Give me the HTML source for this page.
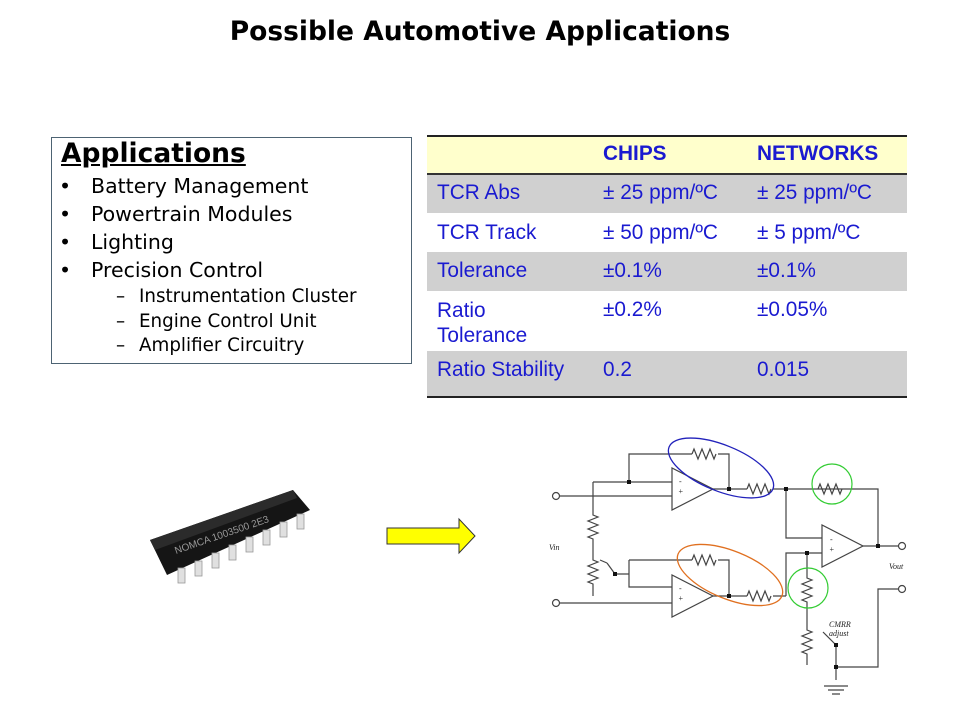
<!DOCTYPE html>
<html><head><meta charset="utf-8"><style>
body{margin:0;width:960px;height:720px;background:#fff;position:relative;overflow:hidden;font-family:"DejaVu Sans","Liberation Sans",sans-serif}
.a{position:absolute;white-space:nowrap}
#title{left:0;width:960px;text-align:center;top:16px;font:bold 26.5px "DejaVu Sans",sans-serif;color:#000}
#box{left:51px;top:137px;width:359px;height:225px;border:1px solid #4d6373}
.t{position:absolute;font-family:"Liberation Sans",sans-serif;font-size:20.8px;color:#1a1ad0;white-space:nowrap}
.b{position:absolute;font-size:20.5px;line-height:24px;white-space:nowrap}
.s{position:absolute;font-size:18.3px;line-height:22px;white-space:nowrap}
</style></head><body>
<div class="a" id="title">Possible Automotive Applications</div>
<div class="a" id="box"></div>
<div class="a" style="left:61px;top:138px;font-size:26.5px;font-weight:bold;text-decoration:underline">Applications</div>
<div class="b" style="left:59px;top:174px">•</div><div class="b" style="left:91px;top:174px">Battery Management</div>
<div class="b" style="left:59px;top:202px">•</div><div class="b" style="left:91px;top:202px">Powertrain Modules</div>
<div class="b" style="left:59px;top:230px">•</div><div class="b" style="left:91px;top:230px">Lighting</div>
<div class="b" style="left:59px;top:258px">•</div><div class="b" style="left:91px;top:258px">Precision Control</div>
<div class="s" style="left:116px;top:286px">–</div><div class="s" style="left:139px;top:286px">Instrumentation Cluster</div>
<div class="s" style="left:116px;top:311px">–</div><div class="s" style="left:139px;top:311px">Engine Control Unit</div>
<div class="s" style="left:116px;top:335px">–</div><div class="s" style="left:139px;top:335px">Amplifier Circuitry</div>

<div class="a" style="left:427px;top:135px;width:480px;height:38px;background:#ffffcc;border-top:2px solid #222;box-sizing:border-box"></div>
<div class="a" style="left:427px;top:173px;width:480px;height:40px;background:#d0d0d0;border-top:2px solid #333;box-sizing:border-box"></div>
<div class="a" style="left:427px;top:252px;width:480px;height:39px;background:#d0d0d0"></div>
<div class="a" style="left:427px;top:351px;width:480px;height:47px;background:#d0d0d0;border-bottom:2px solid #222;box-sizing:border-box"></div>
<div class="t" style="left:603px;top:142px;font-weight:bold">CHIPS</div>
<div class="t" style="left:757px;top:142px;font-weight:bold">NETWORKS</div>
<div class="t" style="left:437px;top:181px">TCR Abs</div><div class="t" style="left:603px;top:181px">± 25 ppm/ºC</div><div class="t" style="left:757px;top:181px">± 25 ppm/ºC</div>
<div class="t" style="left:437px;top:221px">TCR Track</div><div class="t" style="left:603px;top:221px">± 50 ppm/ºC</div><div class="t" style="left:757px;top:221px">± 5 ppm/ºC</div>
<div class="t" style="left:437px;top:259px">Tolerance</div><div class="t" style="left:603px;top:259px">±0.1%</div><div class="t" style="left:757px;top:259px">±0.1%</div>
<div class="t" style="left:437px;top:298px;line-height:25px">Ratio<br>Tolerance</div><div class="t" style="left:603px;top:298px">±0.2%</div><div class="t" style="left:757px;top:298px">±0.05%</div>
<div class="t" style="left:437px;top:358px">Ratio Stability</div><div class="t" style="left:603px;top:358px">0.2</div><div class="t" style="left:757px;top:358px">0.015</div>

<svg class="a" style="left:0;top:0" width="960" height="720">
<!-- chip -->
<g>
<g fill="#d8d8d8" stroke="#999" stroke-width="0.8">
<rect x="200" y="528" width="6" height="12"/><rect x="217" y="522" width="6" height="12"/><rect x="234" y="516" width="6" height="12"/><rect x="251" y="510" width="6" height="12"/><rect x="268" y="504" width="6" height="12"/><rect x="285" y="498" width="6" height="12"/>
</g>
<polygon points="150,540 293,490 310,510 167,575" fill="#151515"/>
<polygon points="150,540 293,490 297,498 155,550" fill="#2b2b2b"/>
<g fill="#e0e0e0" stroke="#999" stroke-width="0.8">
<rect x="178" y="568" width="7" height="15"/><rect x="195" y="561" width="7" height="15"/><rect x="212" y="553" width="7" height="15"/><rect x="229" y="545" width="7" height="15"/><rect x="246" y="537" width="7" height="15"/><rect x="263" y="530" width="7" height="15"/><rect x="280" y="522" width="7" height="15"/><rect x="297" y="514" width="7" height="15"/>
</g>
<text x="176" y="554" fill="#999" font-size="10" font-family="Liberation Sans" transform="rotate(-19 176 554)">NOMCA 1003500 2E3</text>
</g>
<!-- arrow -->
<polygon points="387,528 459,528 459,519 475,536 459,553 459,544 387,544" fill="#ffff00" stroke="#333" stroke-width="1"/>
<!-- circuit -->
<g stroke="#444" stroke-width="1.2" fill="none">
<polygon points="672,468 672,510 713,489"/>
<polygon points="672,575 672,617 713,596"/>
<polygon points="822,525 822,567 863,546"/>
<path d="M558,496H672 M593,482H672 M629,482V454H692 M718,454H729V489 M713,489H747 M773,489H878V546 M863,546H900 M786,489V538H822 M786,596V553H822 M747,596H713 M773,596H786"/>
<path d="M692,454l2,-5l4,10l4,-10l4,10l4,-10l4,10l2,-5"/>
<path d="M747,489l2,-5l4,10l4,-10l4,10l4,-10l4,10l2,-5"/>
<path d="M818,489l2,-5l4,10l4,-10l4,10l4,-10l4,10l2,-5"/>
<path d="M558,603H672 M629,560V587H672 M629,560H692 M718,560H729V596 M615,574H629"/>
<path d="M692,560l2,-5l4,10l4,-10l4,10l4,-10l4,10l2,-5"/>
<path d="M747,596l2,-5l4,10l4,-10l4,10l4,-10l4,10l2,-5"/>
<path d="M593,482V515 l5,2l-10,4l10,4l-10,4l10,4l-10,4l5,2 V560 l5,2l-10,4l10,4l-10,4l10,4l-10,4l5,2 V596"/>
<path d="M607,563L615,574"/><path d="M600,560l7,3"/>
<path d="M807,553V578 l5,2l-10,4l10,4l-10,4l10,4l-10,4l5,2 V630 l5,2l-10,4l10,4l-10,4l10,4l-10,4l5,2 V665"/>
<path d="M836,645L823,632 M836,645V680 M836,667H878V589H900"/>
<path d="M824,686H848 M828,690H844 M832,694H840"/>
</g>
<g fill="#fff" stroke="#444" stroke-width="1.2">
<circle cx="556" cy="496" r="3.5"/><circle cx="556" cy="603" r="3.5"/><circle cx="902" cy="546" r="3.5"/><circle cx="902" cy="589" r="3.5"/>
</g>
<g fill="#111">
<rect x="627" y="480" width="4" height="4"/><rect x="727" y="487" width="4" height="4"/><rect x="784" y="487" width="4" height="4"/><rect x="876" y="544" width="4" height="4"/><rect x="805" y="551" width="4" height="4"/><rect x="727" y="594" width="4" height="4"/><rect x="613" y="572" width="4" height="4"/><rect x="834" y="643" width="4" height="4"/><rect x="834" y="665" width="4" height="4"/>
</g>
<g font-family="Liberation Serif" font-style="italic" font-size="8" fill="#222">
<text x="678" y="494">+</text><text x="679" y="484">-</text>
<text x="678" y="601">+</text><text x="679" y="591">-</text>
<text x="829" y="552">+</text><text x="830" y="542">-</text>
<text x="549" y="550">Vin</text><text x="889" y="569">Vout</text>
<text x="829" y="627">CMRR</text><text x="829" y="636">adjust</text>
</g>
<ellipse cx="721" cy="468" rx="56" ry="23" transform="rotate(22 721 468)" fill="none" stroke="#2222bb" stroke-width="1.3"/>
<ellipse cx="730" cy="575" rx="56" ry="24" transform="rotate(22 730 575)" fill="none" stroke="#e07020" stroke-width="1.3"/>
<circle cx="832" cy="484" r="20" fill="none" stroke="#33cc33" stroke-width="1.2"/>
<circle cx="808" cy="588" r="20" fill="none" stroke="#33cc33" stroke-width="1.2"/>
</svg>
</body></html>
